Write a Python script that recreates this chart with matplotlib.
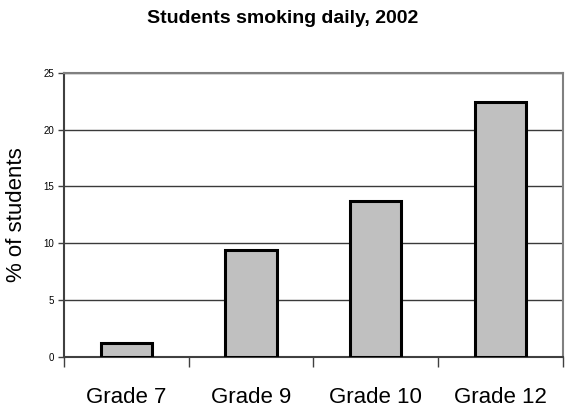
import matplotlib.pyplot as plt
import numpy as np

plt.rcParams['font.family'] = ['Liberation Sans', 'DejaVu Sans']

grades = ['Grade 7', 'Grade 9', 'Grade 10', 'Grade 12']
pct_daily = [1.2, 9.4, 13.7, 22.4]
y_ticks = [0, 5, 10, 15, 20, 25]

fig = plt.figure(figsize=(5.66, 4.09), dpi=100)
ax = fig.add_axes([0.113, 0.128, 0.881, 0.694])

x = np.arange(len(grades))
ax.bar(x, pct_daily, width=0.41, color='#c0c0c0', edgecolor='black',
       linewidth=2.2, zorder=3)

ax.set_xlim(-0.5, len(grades) - 0.5)
ax.set_ylim(0, 25)
ax.set_yticks(y_ticks)
ax.tick_params(axis='y', labelsize=7, length=4, width=1, color='#404040', pad=3)
ax.yaxis.grid(True, color='#3a3a3a', linewidth=1.0, zorder=0)

# category labels in the middle, tick marks on the boundaries
ax.set_xticks(x)
ax.set_xticklabels(grades, fontsize=16)
ax.tick_params(axis='x', which='major', length=0, pad=22)
ax.set_xticks(np.arange(-0.5, len(grades)), minor=True)
ax.tick_params(axis='x', which='minor', length=7, width=1, color='#404040')

for side in ['left', 'bottom']:
    ax.spines[side].set_color('#404040')
    ax.spines[side].set_linewidth(1.5)
for side in ['right', 'top']:
    ax.spines[side].set_color('#808080')
    ax.spines[side].set_linewidth(1.5)

ax.set_ylabel('% of students', fontsize=16, labelpad=12)
fig.text(0.5, 0.955, 'Students smoking daily, 2002', ha='center', va='center',
         fontsize=14, fontweight='bold')

fig.savefig('out.png', dpi=100)
